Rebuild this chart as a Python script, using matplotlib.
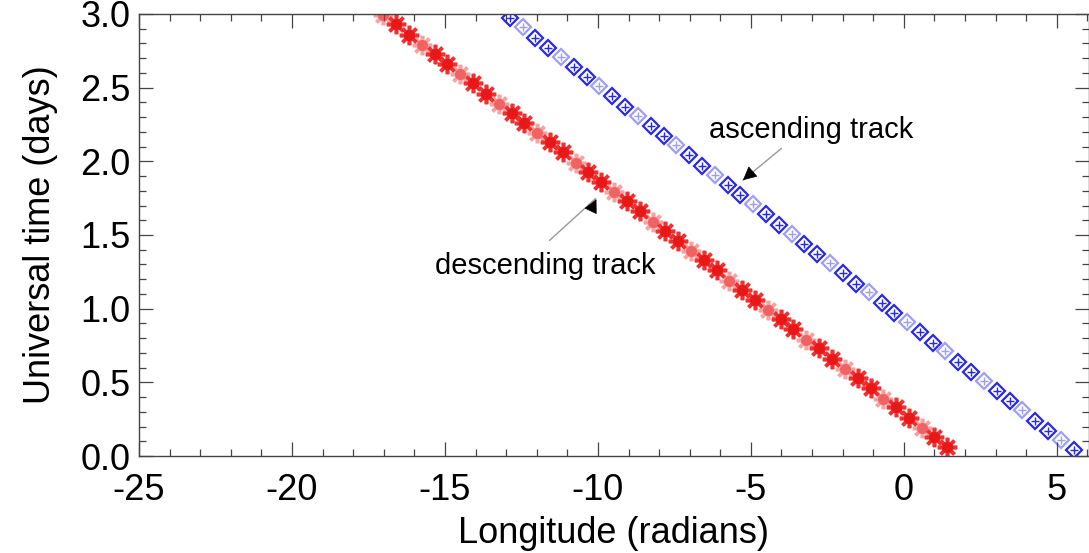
import matplotlib.pyplot as plt
from matplotlib.ticker import MultipleLocator

plt.rcParams['font.family'] = ['Liberation Sans', 'DejaVu Sans']
plt.rcParams['axes.unicode_minus'] = False

# node crossings, one per orbit
desc_time = [0.06, 0.13, 0.19, 0.26, 0.33, 0.39, 0.46, 0.53, 0.59, 0.66,
             0.73, 0.79, 0.86, 0.93, 0.99, 1.06, 1.13, 1.19, 1.26, 1.33,
             1.39, 1.46, 1.53, 1.59, 1.66, 1.73, 1.79, 1.86, 1.93, 1.99,
             2.06, 2.13, 2.19, 2.26, 2.33, 2.39, 2.46, 2.53, 2.59, 2.66,
             2.73, 2.79, 2.86, 2.93, 2.99]
desc_lon = [1.42, 1.00, 0.58, 0.16, -0.26, -0.67, -1.09, -1.51, -1.93, -2.35,
            -2.77, -3.19, -3.61, -4.03, -4.44, -4.86, -5.28, -5.70, -6.12, -6.54,
            -6.96, -7.38, -7.80, -8.21, -8.63, -9.05, -9.47, -9.89, -10.31, -10.73,
            -11.15, -11.57, -11.98, -12.40, -12.82, -13.24, -13.66, -14.08, -14.50, -14.92,
            -15.34, -15.75, -16.17, -16.59, -17.01]

asc_time = [0.04, 0.11, 0.17, 0.24, 0.31, 0.37, 0.44, 0.51, 0.57, 0.64,
            0.71, 0.77, 0.84, 0.91, 0.97, 1.04, 1.11, 1.17, 1.24, 1.31,
            1.37, 1.44, 1.51, 1.57, 1.64, 1.71, 1.77, 1.84, 1.91, 1.97,
            2.04, 2.11, 2.17, 2.24, 2.31, 2.37, 2.44, 2.51, 2.57, 2.64,
            2.71, 2.77, 2.84, 2.91, 2.97]
asc_lon = [5.55, 5.13, 4.71, 4.29, 3.87, 3.46, 3.04, 2.62, 2.20, 1.78,
           1.36, 0.94, 0.52, 0.10, -0.31, -0.73, -1.15, -1.57, -1.99, -2.41,
           -2.83, -3.25, -3.67, -4.08, -4.50, -4.92, -5.34, -5.76, -6.18, -6.60,
           -7.02, -7.44, -7.85, -8.27, -8.69, -9.11, -9.53, -9.95, -10.37, -10.79,
           -11.21, -11.62, -12.04, -12.46, -12.88]

fig = plt.figure(figsize=(10.89, 5.53), dpi=100)
ax = fig.add_axes([0.1276, 0.1754, 0.8724, 0.7993])

# alternate dark / pale symbols along each track
shade = [1.0, 1.0, 0.45]
for i in range(len(desc_lon)):
    a = shade[i % 3]
    ax.plot(desc_lon[i], desc_time[i], marker=(8, 2, 0), ms=14, mew=2.6,
            color='#f03030', alpha=a, ls='none')
    ax.plot(desc_lon[i], desc_time[i], marker='o', ms=8,
            color='#e81818', mec='none', alpha=a, ls='none')
for i in range(len(asc_lon)):
    a = shade[(i + 1) % 3]
    ax.plot(asc_lon[i], asc_time[i], marker='D', ms=8.5, mew=1.6,
            mfc='none', mec='#2828e8', alpha=a, ls='none')
    ax.plot(asc_lon[i], asc_time[i], marker='+', ms=6, mew=1.0,
            color='#2828e8', alpha=a, ls='none')

ax.set_xlim(-25, 6.05)
ax.set_ylim(0, 3.0)
ax.xaxis.set_major_locator(MultipleLocator(5))
ax.xaxis.set_minor_locator(MultipleLocator(1))
ax.yaxis.set_major_locator(MultipleLocator(0.5))
ax.yaxis.set_minor_locator(MultipleLocator(0.1))
ax.yaxis.set_major_formatter(plt.FormatStrFormatter('%.1f'))
ax.tick_params(which='both', direction='in', top=True, right=True,
               color='#444444', width=0.9, labelsize=26)
ax.tick_params(which='major', length=10)
ax.tick_params(axis='x', which='major', pad=12)
ax.tick_params(axis='y', which='major', pad=6)
ax.tick_params(which='minor', length=5)
for s in ax.spines.values():
    s.set_color('#444444')
    s.set_linewidth(1.0)

ax.set_xlabel('Longitude (radians)', fontsize=26, labelpad=6)
ax.set_ylabel('Universal time (days)', fontsize=26, labelpad=16)

# track labels with pointer arrows
ax.text(-3.04, 2.21, 'ascending track', fontsize=21, ha='center', va='center')
ax.annotate('', xy=(-5.33, 1.86), xytext=(-3.93, 2.10),
            arrowprops=dict(arrowstyle='-', color='#999999', lw=1.0))
ax.annotate('', xy=(-5.33, 1.86), xytext=(-5.05, 1.91),
            arrowprops=dict(arrowstyle='-|>', color='black', lw=0.5,
                            mutation_scale=22))
ax.text(-11.71, 1.29, 'descending track', fontsize=21, ha='center', va='center')
ax.annotate('', xy=(-10.01, 1.76), xytext=(-11.65, 1.45),
            arrowprops=dict(arrowstyle='-', color='#999999', lw=1.0))
ax.annotate('', xy=(-10.01, 1.76), xytext=(-10.15, 1.70),
            arrowprops=dict(arrowstyle='-|>', color='black', lw=0.5,
                            mutation_scale=22))

fig.savefig('out.png', dpi=100)
